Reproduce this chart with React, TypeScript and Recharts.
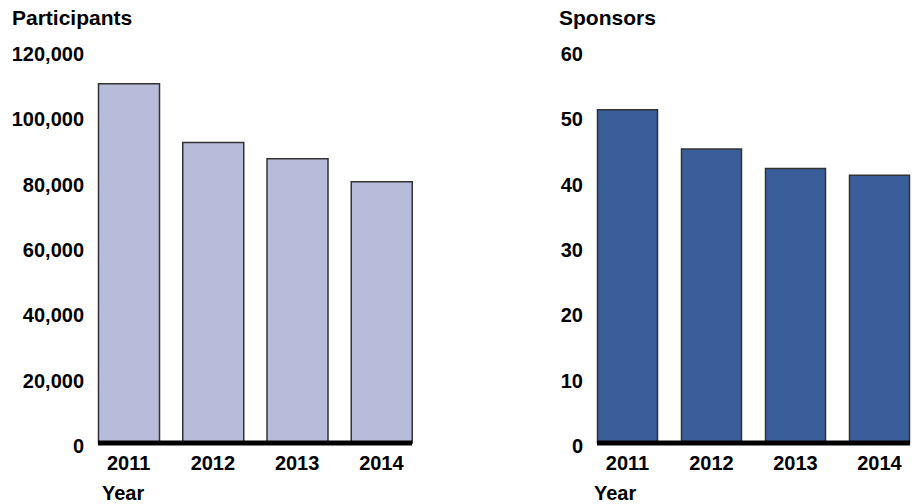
import { BarChart, Bar, XAxis, YAxis } from "recharts";

const years = ["2011", "2012", "2013", "2014"];
const participants = [110000, 92000, 87000, 80000];
const sponsors = [51, 45, 42, 41];
const participantTicks = [0, 20000, 40000, 60000, 80000, 100000, 120000];
const sponsorTicks = [0, 10, 20, 30, 40, 50, 60];

const participantData = years.map((year, i) => ({ year, value: participants[i] }));
const sponsorData = years.map((year, i) => ({ year, value: sponsors[i] }));

const FONT = "'Liberation Sans', Arial, sans-serif";

const YTick = ({ x, y, payload }: any) => (
  <text x={x} y={y + 3} dy="0.355em" textAnchor="end" fontFamily={FONT} fontWeight="bold" fontSize={20} fill="#000">
    {Number(payload.value).toLocaleString("en-US")}
  </text>
);

const XTick = ({ x, y, payload }: any) => (
  <text x={x} y={y} dy="0.71em" textAnchor="middle" fontFamily={FONT} fontWeight="bold" fontSize={20} fill="#000">
    {payload.value}
  </text>
);

const labelStyle = {
  position: "absolute" as const,
  fontFamily: FONT,
  fontWeight: "bold" as const,
  lineHeight: 1,
  color: "#000",
  whiteSpace: "nowrap" as const,
};

const Panel = ({ data, ticks, fill, width, yWidth, right, barSize }: any) => (
  <BarChart width={width} height={504} data={data} margin={{ top: 51, right, left: 0, bottom: 0 }} barSize={barSize}>
    <XAxis
      dataKey="year"
      height={61}
      axisLine={{ stroke: "#000", strokeWidth: 5 }}
      tickLine={false}
      tickSize={0}
      tickMargin={13}
      padding={{ left: -11.5, right: -11.5 }}
      tick={<XTick />}
      interval={0}
    />
    <YAxis
      width={yWidth}
      domain={[ticks[0], ticks[ticks.length - 1]]}
      ticks={ticks}
      axisLine={false}
      tickLine={false}
      tickSize={0}
      tickMargin={14}
      tick={<YTick />}
      interval={0}
    />
    <Bar dataKey="value" fill={fill} stroke="#333" strokeWidth={1.5} isAnimationActive={false} />
  </BarChart>
);

export default function App() {
  return (
    <div style={{ position: "absolute", left: 0, top: 0, width: 917, height: 504, background: "#fff" }}>
      <div style={{ position: "absolute", left: 0, top: 0 }}>
        <Panel data={participantData} ticks={participantTicks} fill="#b8bcdb" width={460} yWidth={98} right={48} barSize={61} />
      </div>
      <div style={{ position: "absolute", left: 460, top: 0 }}>
        <Panel data={sponsorData} ticks={sponsorTicks} fill="#395e99" width={457} yWidth={137} right={7} barSize={60} />
      </div>
      <div style={{ ...labelStyle, left: 12, top: 7, fontSize: 21 }}>Participants</div>
      <div style={{ ...labelStyle, left: 559, top: 7, fontSize: 21 }}>Sponsors</div>
      <div style={{ ...labelStyle, left: 102, top: 483, fontSize: 20 }}>Year</div>
      <div style={{ ...labelStyle, left: 594, top: 483, fontSize: 20 }}>Year</div>
    </div>
  );
}
